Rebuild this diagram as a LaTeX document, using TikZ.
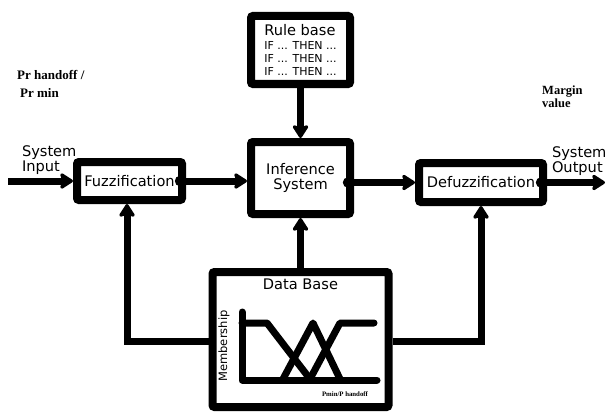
\documentclass[tikz,border=0pt]{standalone}
\usepackage{fontspec}
\setmainfont{DejaVu Sans}
\newfontfamily\tnr{Liberation Serif}
\usetikzlibrary{arrows.meta}

\newcommand{\rulefont}{\fontsize{11}{12.5}\selectfont}

\tikzset{
  block/.style={draw, line width=8pt, rounded corners=2pt, inner sep=0pt, align=center,
    font=\fontsize{14.6}{15}\selectfont},
  link/.style={line width=7pt, -{Stealth[length=15pt,width=19pt,inset=3pt,round]}},
  dotlink/.style={link, {Circle[length=10pt]}-{Stealth[length=15pt,width=19pt,inset=3pt,round]},
    shorten <=-11pt},
  note/.style={font=\tnr\bfseries\fontsize{13}{14}\selectfont, align=left, inner sep=0pt},
  mf/.style={line width=7pt, line cap=round, line join=round}
}

\begin{document}
\begin{tikzpicture}[x=1pt,y=-1pt]
  \useasboundingbox (0,0) rectangle (605,412);

  \node[block, minimum width=99pt, minimum height=68pt, align=left] (rule) at (300.5,50)
    {Rule base\\[-1pt]\rulefont IF ... THEN ...\\[-2pt]\rulefont IF ... THEN ...\\[-2pt]\rulefont IF ... THEN ...};
  \node[block, minimum width=99pt, minimum height=72pt] (infer) at (300.5,178) {Inference\\System};
  \node[block, minimum width=105pt, minimum height=38pt] (fuzz) at (129.5,181) {Fuzzification};
  \node[block, minimum width=124pt, minimum height=39pt] (defuzz) at (481,182.5) {Defuzzification};
  \node[block, minimum width=176pt, minimum height=135pt,
    label={[anchor=north, yshift=-7pt, font=\fontsize{14.6}{15}\selectfont]north:Data Base}] (db) at (300.5,339.5) {};

  \node[note, anchor=north west] (prh) at (17,70) {Pr handoff /\\[4pt]\hspace{3pt}Pr min};
  \node[note, anchor=north west, font=\tnr\bfseries\fontsize{12.5}{13}\selectfont] (margin) at (542,86) {Margin\\value};
  \node[block, draw=none, anchor=north west, align=left, font=\fontsize{14.6}{13.5}\selectfont] (sysin) at (18,142) {System\\Input};
  \node[block, draw=none, anchor=north west, align=left, font=\fontsize{14.6}{13.5}\selectfont] (sysout) at (548,143) {System\\Output};

  \coordinate (in) at (8,181);
  \coordinate (out) at (605,182.5);
  \coordinate (lbend) at (127,341);
  \coordinate (rbend) at (482,341);

  \path[link] (in) edge (fuzz);
  \path[dotlink] (fuzz) edge (infer.west |- fuzz);
  \path[dotlink] (infer.east |- defuzz) edge (defuzz);
  \path[dotlink] (defuzz) edge (out);
  \path[link] (rule) edge (infer)
              (db) edge (infer);
  \draw[link] (db.west |- lbend) -- (lbend) -- (lbend |- fuzz.south);
  \draw[link] (db.east |- rbend) -| (defuzz.south);

  % membership functions
  \draw[mf] (242,312) -- (242,380) -- (377,380);
  \draw[mf] (242,323) -- (267,323) -- (310,379);
  \draw[mf] (283,379) -- (313,323) -- (340,379);
  \draw[mf] (310,379) -- (340,323) -- (374,323);
  \node[rotate=90, font=\fontsize{11.5}{12}\selectfont] (mship) at (224,346) {Membership};
  \node[note, font=\tnr\bfseries\fontsize{6.8}{7}\selectfont] (pax) at (345,394) {Pmin/P handoff};
\end{tikzpicture}
\end{document}
